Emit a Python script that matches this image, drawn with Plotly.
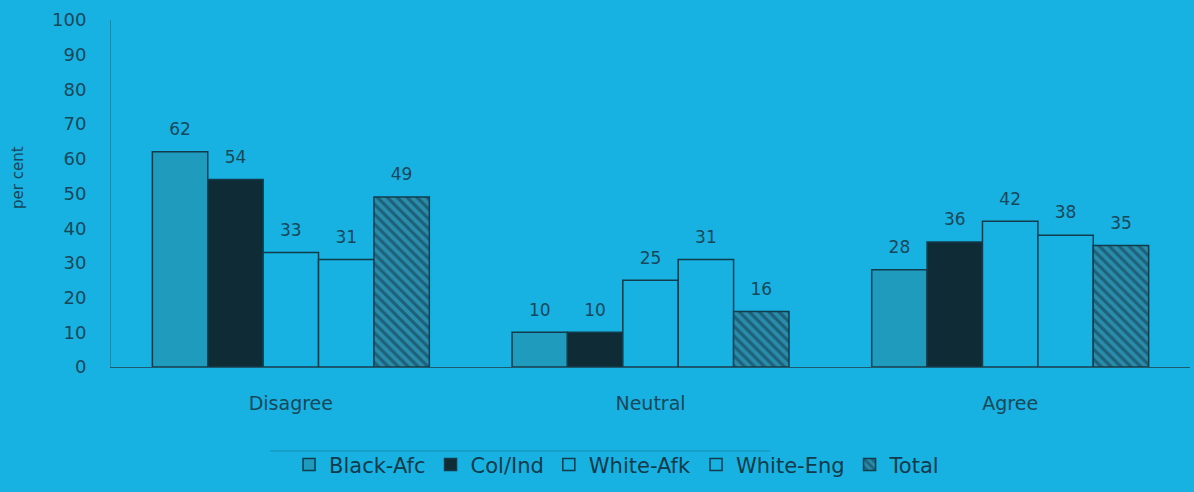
import plotly.graph_objects as go

categories = ["Disagree", "Neutral", "Agree"]
black_afc = [62, 10, 28]
col_ind = [54, 10, 36]
white_afk = [33, 25, 42]
white_eng = [31, 31, 38]
total = [49, 16, 35]
y_ticks = [0, 10, 20, 30, 40, 50, 60, 70, 80, 90, 100]

BG = "#17b2e1"
EDGE = "#123c4c"
TXT = "#17475a"
FONT = "DejaVu Sans, Verdana, sans-serif"

series = [
    ("Black-Afc", black_afc, dict(color="#1f9bbd", line=dict(color=EDGE, width=1.5))),
    ("Col/Ind", col_ind, dict(color="#0f2b35", line=dict(color=EDGE, width=1.5))),
    ("White-Afk", white_afk, dict(color=BG, line=dict(color=EDGE, width=1.5))),
    ("White-Eng", white_eng, dict(color=BG, line=dict(color=EDGE, width=1.5))),
    ("Total", total, dict(color="#2a8cab", line=dict(color=EDGE, width=1.5),
                          pattern=dict(shape="\\", fgcolor="#103545", bgcolor="#2a8cab",
                                       size=7, solidity=0.45))),
]

fig = go.Figure()
for name, vals, marker in series:
    fig.add_trace(go.Bar(
        name=name, x=categories, y=vals, marker=marker,
        text=vals,
        texttemplate="<span style='font-size:17px'>%{y}</span><br> ",
        textposition="outside", cliponaxis=False, constraintext="none",
        textfont=dict(family=FONT, size=9, color=TXT),
    ))

fig.update_layout(
    width=1194, height=492,
    paper_bgcolor=BG, plot_bgcolor=BG,
    margin=dict(l=111, r=4, t=20, b=125),
    barmode="group", bargap=0.23, bargroupgap=0,
    font=dict(family=FONT, color=TXT),
    showlegend=True,
    legend=dict(orientation="h", x=0.469, xanchor="center", y=-0.282, yanchor="middle",
                font=dict(size=21, color="#123a4a"), bgcolor="rgba(0,0,0,0)",
                itemwidth=30, tracegroupgap=0),
    xaxis=dict(showgrid=False, showline=True, linecolor="#1d5a6e", linewidth=1,
               tickfont=dict(size=19, color=TXT), ticks="", ticklabelstandoff=19,
               range=[-0.5, 2.5]),
    yaxis=dict(range=[0, 100], tickvals=y_ticks, showgrid=False, zeroline=False,
               showline=True, linecolor="rgba(20,70,90,0.35)", linewidth=1,
               tickfont=dict(size=18, color=TXT), ticks="", ticklabelstandoff=20),
    annotations=[dict(text="per cent", xref="paper", yref="paper",
                      x=(18 - 111) / 1079, y=(367 - 178) / 347, textangle=-90,
                      showarrow=False, xanchor="center", yanchor="middle",
                      font=dict(family=FONT, size=15, color=TXT))],
    shapes=[dict(type="line", xref="paper", yref="paper",
                 x0=(270 - 111) / 1079, x1=(770 - 111) / 1079,
                 y0=(367 - 451) / 347, y1=(367 - 451) / 347,
                 line=dict(color="rgba(20,70,90,0.35)", width=1))],
)

fig.write_html("out.html", config={"displayModeBar": False},
               post_script="document.body.style.margin='0px';")
